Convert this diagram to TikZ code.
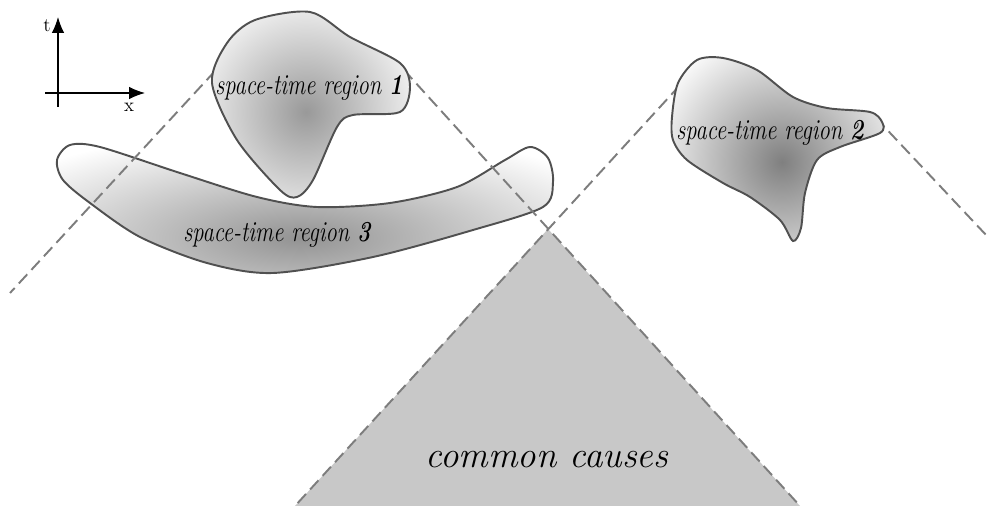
\documentclass[tikz,border=0pt]{standalone}
\usepackage{graphicx}
\usetikzlibrary{arrows.meta}
\definecolor{conegray}{RGB}{125,125,125}
\definecolor{edgegray}{RGB}{80,80,80}
\definecolor{causegray}{RGB}{200,200,200}
\newcommand{\stregion}[1]{\scalebox{0.78}[1]{\itshape space-time region \textbf{#1}}}
\tikzset{
  cone/.style={draw=conegray,line width=1.1pt,dash pattern=on 7pt off 3.5pt},
  blob/.style={draw=edgegray,line width=1.1pt,fill=white},
  blobtext/.style={font=\fontsize{16.5}{19}\selectfont,anchor=base},
  axis/.style={-{Latex[length=9pt,width=7pt]},line width=0.6pt},
  axistext/.style={font=\fontsize{11}{13}\selectfont,inner sep=0pt},
}
\begin{document}
\begin{tikzpicture}[x=0.02cm,y=-0.02cm]
  \useasboundingbox (0,0) rectangle (987,506);
  \clip (0,0) rectangle (987,506);
  % 共同原因
  \coordinate (apex) at (548,229);
  \coordinate (bl) at (295,506);
  \coordinate (br) at (800,506);
  \fill[causegray] (apex) -- (bl) -- (br) -- cycle;
  \node[font=\fontsize{21}{25}\selectfont\itshape,anchor=base] (causes) at (547,467) {common causes};
  % 区域3
  \draw[blob,path picture={\shade[inner color=gray!85,outer color=white] (300,238) ellipse [x radius=7cm,y radius=2.2cm];}]
    plot[smooth cycle] coordinates {(57,160) (70,145) (100,147) (180,173) (257,197) (317,207) (390,203) (457,187) (505,160) (530,147) (548,158) (553,182) (543,207) (473,230) (373,257) (273,273) (207,263) (140,237) (90,203) (63,180)};
  \node[blobtext] (lab3) at (277,242) {\stregion{3}};
  % 光锥边界
  \coordinate (c1a) at (240,44);
  \coordinate (c1b) at (10,293);
  \coordinate (c1c) at (404,70);
  \coordinate (c2a) at (692,72);
  \coordinate (c2b) at (876,118);
  \coordinate (c2c) at (987,236);
  \draw[cone] (c1a) -- (c1b);
  \draw[cone] (c1c) -- (br);
  \draw[cone] (c2a) -- (bl);
  \draw[cone] (c2b) -- (c2c);
  % 区域1
  \draw[blob,path picture={\shade[inner color=gray!80,outer color=white] (306,112) ellipse [x radius=2.6cm,y radius=2.6cm];}]
    plot[smooth cycle] coordinates {(310,12) (350,37) (400,63) (410,87) (400,112) (353,115) (337,127) (313,180) (297,197) (280,190) (237,140) (212,83) (227,43) (255,20)};
  \node[blobtext] (lab1) at (309,95) {\stregion{1}};
  % 区域2
  \draw[blob,path picture={\shade[inner color=gray!100,outer color=white] (782,162) ellipse [x radius=2.8cm,y radius=2.8cm];}]
    plot[smooth cycle] coordinates {(697,60) (723,58) (757,70) (793,97) (827,108) (870,112) (882,122) (880,133) (840,147) (817,160) (805,193) (801,228) (793,241) (780,220) (750,197) (723,183) (687,160) (673,140) (672,117) (678,83)};
  \node[blobtext] (lab2) at (770,140) {\stregion{2}};
  % 坐标轴
  \coordinate (tb) at (58,107);
  \coordinate (tt) at (58,17);
  \coordinate (xl) at (45,93);
  \coordinate (xr) at (145,93);
  \draw[axis] (tb) -- (tt);
  \draw[axis] (xl) -- (xr);
  \node[axistext] (tlab) at ([shift={(-11,9)}]tt) {t};
  \node[axistext] (xlab) at ([shift={(-16,14)}]xr) {x};
\end{tikzpicture}
\end{document}
